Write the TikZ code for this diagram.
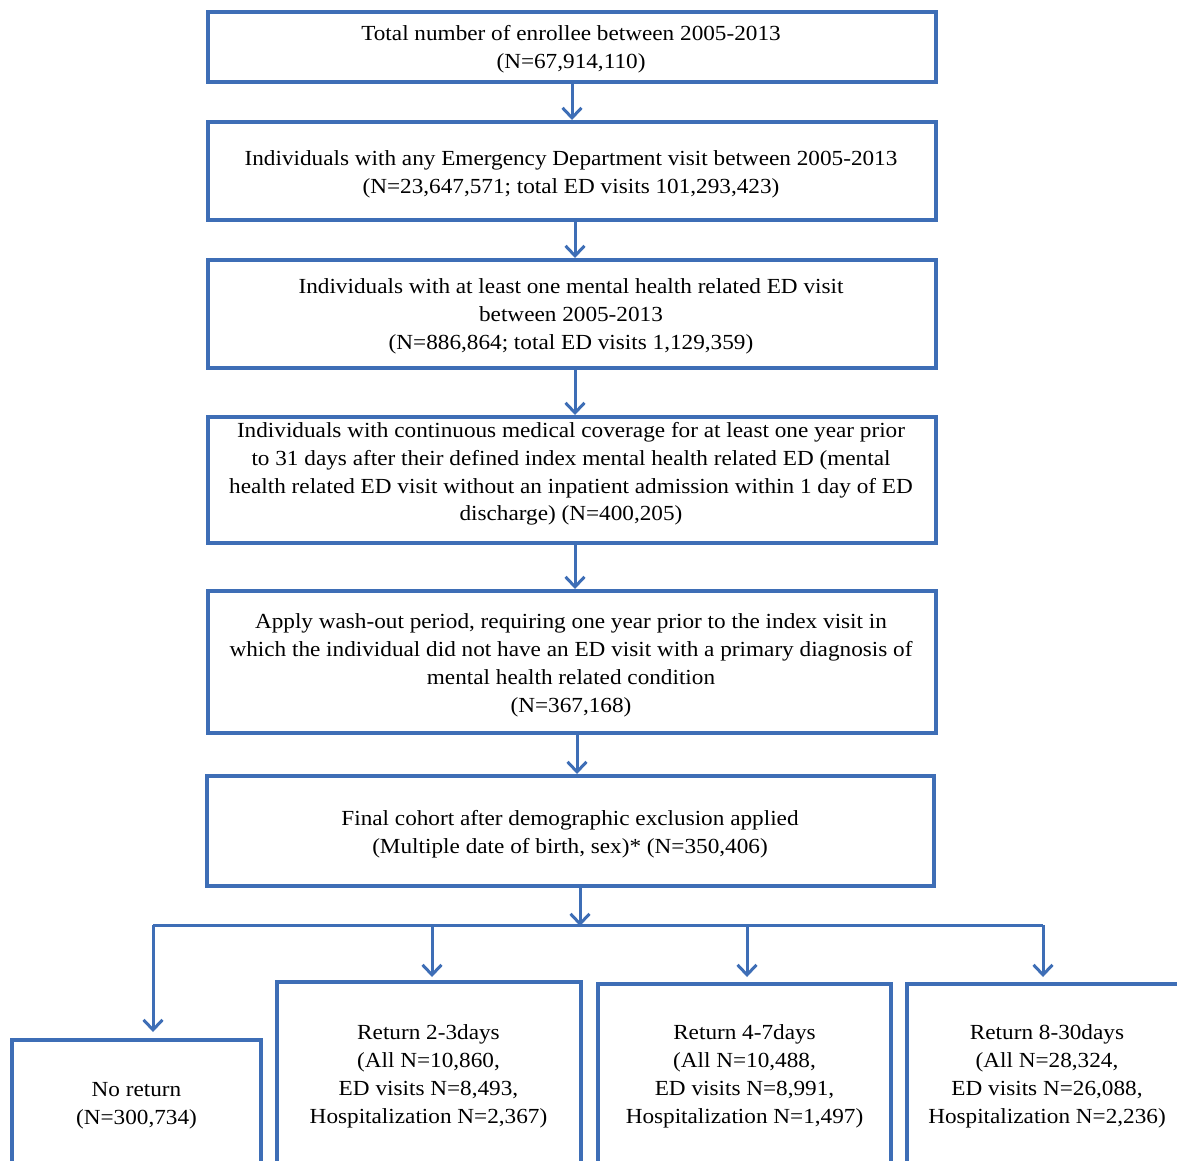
\documentclass[tikz,border=0pt]{standalone}
\usepackage{fontspec}
\setmainfont[FakeStretch=1.08]{Liberation Serif}
\usetikzlibrary{arrows.meta}
\definecolor{fblue}{RGB}{62,110,182}
\begin{document}
\begin{tikzpicture}[x=1pt,y=-1pt,
  box/.style={draw=fblue,line width=4pt,inner sep=0pt},
  txt/.style={align=center,inner sep=0pt,font=\fontsize{21.5}{27.8}\selectfont},
  arr/.style={draw=fblue,line width=3pt,-{Straight Barb[length=10pt,width=19pt,line width=3pt]}},
  ln/.style={draw=fblue,line width=3pt}]
\useasboundingbox (0,0) rectangle (1177,1160);
\begin{scope}
\clip (0,0) rectangle (1177,1160);
\node[box,minimum width=728,minimum height=70] (b1) at (572,47) {};
\node[box,minimum width=728,minimum height=98] (b2) at (572,171) {};
\node[box,minimum width=728,minimum height=108] (b3) at (572,314) {};
\node[box,minimum width=728,minimum height=126] (b4) at (572,480) {};
\node[box,minimum width=728,minimum height=142] (b5) at (572,662) {};
\node[box,minimum width=727,minimum height=110] (b6) at (570.5,831) {};
\node[box,minimum width=249,minimum height=130] (c1) at (136.5,1105) {};
\node[box,minimum width=304,minimum height=188] (c2) at (429,1076) {};
\node[box,minimum width=293,minimum height=186] (c3) at (744.5,1077) {};
\node[box,minimum width=280,minimum height=186] (c4) at (1047,1077) {};

\node[txt] (t1) at (571,49) {Total number of enrollee between 2005-2013\\(N=67,914,110)};
\node[txt] (t2) at (571,174) {Individuals with any Emergency Department visit between 2005-2013\\(N=23,647,571; total ED visits 101,293,423)};
\node[txt] (t3) at (571,316.5) {Individuals with at least one mental health related ED visit\\between 2005-2013\\(N=886,864; total ED visits 1,129,359)};
\node[txt] (t4) at (571,474) {Individuals with continuous medical coverage for at least one year prior\\to 31 days after their defined index mental health related ED (mental\\health related ED visit without an inpatient admission within 1 day of ED\\discharge) (N=400,205)};
\node[txt] (t5) at (571,665.5) {Apply wash-out period, requiring one year prior to the index visit in\\which the individual did not have an ED visit with a primary diagnosis of\\mental health related condition\\(N=367,168)};
\node[txt] (t6) at (570,834) {Final cohort after demographic exclusion applied\\(Multiple date of birth, sex)* (N=350,406)};
\node[txt] (u1) at (136.5,1105.5) {No return\\(N=300,734)};
\node[txt] (u2) at (428.5,1076.5) {Return 2-3days\\(All N=10,860,\\ED visits N=8,493,\\Hospitalization N=2,367)};
\node[txt] (u3) at (744.5,1076.5) {Return 4-7days\\(All N=10,488,\\ED visits N=8,991,\\Hospitalization N=1,497)};
\node[txt] (u4) at (1047,1076.5) {Return 8-30days\\(All N=28,324,\\ED visits N=26,088,\\Hospitalization N=2,236)};

\draw[arr] (b1.south) -- (b2.north);
\draw[arr] ([xshift=3]b2.south) -- ([xshift=3]b3.north);
\draw[arr] ([xshift=3]b3.south) -- ([xshift=3]b4.north);
\draw[arr] ([xshift=3]b4.south) -- ([xshift=3]b5.north);
\draw[arr] ([xshift=5]b5.south) -- ([xshift=6.5]b6.north);
\coordinate (jL) at (153,925);
\coordinate (jR) at (1043,925);
\coordinate (j0) at (580,925);
\draw[arr,shorten >=-1pt] ([xshift=9.5]b6.south) -- (j0);
\draw[ln] (jL) -- (jR);
\draw[arr,shorten >=8pt] (jL) -- (153,1040);
\draw[arr,shorten >=5pt] (432,925) -- (432,982);
\draw[arr,shorten >=7pt] (747,925) -- (747,984);
\draw[arr,shorten >=7pt] (jR) -- (1043,984);
\end{scope}
\end{tikzpicture}
\end{document}
